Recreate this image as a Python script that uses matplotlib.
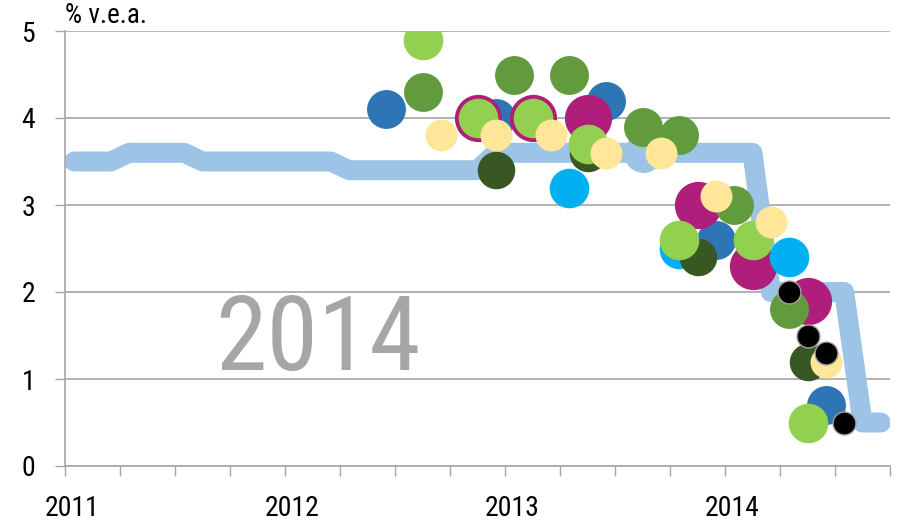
import matplotlib
matplotlib.use('Agg')
import matplotlib.pyplot as plt

plt.rcParams['font.family'] = ['Roboto Condensed', 'Liberation Sans Narrow', 'Roboto', 'DejaVu Sans']

# policy rate, monthly Jan 2011 - Sep 2014
rate_start = '2011-01'
rate = [3.5, 3.5, 3.5,
        3.6, 3.6, 3.6, 3.6,
        3.5, 3.5, 3.5, 3.5, 3.5, 3.5, 3.5, 3.5,
        3.4, 3.4, 3.4, 3.4, 3.4, 3.4, 3.4, 3.4,
        3.6, 3.6, 3.6, 3.6, 3.6, 3.6, 3.6, 3.6, 3.6, 3.6, 3.6, 3.6, 3.6, 3.6, 3.6,
        2.0, 2.0, 2.0, 2.0, 2.0,
        0.5, 0.5]

# forecasts (month, value) per series
lightblue_d = ['2013-08']
lightblue_v = [3.6]
blue_d = ['2012-06', '2012-12', '2013-06', '2013-12', '2014-06']
blue_v = [4.1, 4.0, 4.2, 2.6, 0.7]
magenta_d = ['2012-11', '2013-02', '2013-05', '2013-11', '2014-02', '2014-05']
magenta_v = [4.0, 4.0, 4.0, 3.0, 2.3, 1.9]
cyan_d = ['2013-04', '2013-10', '2014-04']
cyan_v = [3.2, 2.5, 2.4]
green_d = ['2012-08', '2013-01', '2013-04', '2013-08', '2013-10', '2014-01', '2014-04']
green_v = [4.3, 4.5, 4.5, 3.9, 3.8, 3.0, 1.8]
darkgreen_d = ['2012-12', '2013-05', '2013-11', '2014-05']
darkgreen_v = [3.4, 3.6, 2.4, 1.2]
lightgreen_d = ['2012-08', '2012-11', '2013-02', '2013-05', '2013-10', '2014-02', '2014-05']
lightgreen_v = [4.9, 4.0, 4.0, 3.7, 2.6, 2.6, 0.5]
yellow_d = ['2012-09', '2012-12', '2013-03', '2013-06', '2013-09', '2013-12', '2014-03', '2014-06']
yellow_v = [3.8, 3.8, 3.8, 3.6, 3.6, 3.1, 2.8, 1.2]
black_d = ['2014-04', '2014-05', '2014-06', '2014-07']
black_v = [2.0, 1.5, 1.3, 0.5]

years = ['2011', '2012', '2013', '2014']


def mpos(s):
    y, m = s.split('-')
    return (int(y) - 2011) * 12 + int(m) - 1 + 0.5


fig = plt.figure(figsize=(9.08, 5.25), dpi=100)
ax = fig.add_axes([65 / 908, 1 - 466 / 525, 825 / 908, 435 / 525])

x0 = mpos(rate_start)
ax.plot([x0 + i for i in range(len(rate))], rate, color='#9DC3E6', lw=14.4,
        solid_capstyle='round', solid_joinstyle='round', zorder=2)

series = [
    (lightblue_d, lightblue_v, '#9DC3E6', 28, 'none'),
    (blue_d, blue_v, '#2E75B6', 28, 'none'),
    (magenta_d, magenta_v, '#AF1E7A', 34, 'none'),
    (cyan_d, cyan_v, '#00B0F0', 28.5, 'none'),
    (green_d, green_v, '#629B3E', 28, 'none'),
    (darkgreen_d, darkgreen_v, '#385723', 27, 'none'),
    (lightgreen_d, lightgreen_v, '#92D050', 28.5, 'none'),
    (yellow_d, yellow_v, '#FFE699', 23, 'none'),
    (black_d, black_v, '#000000', 16.5, '#A0A0A0'),
]
z = 3
for d, v, c, ms, ec in series:
    ax.plot([mpos(s) for s in d], v, 'o', color=c, ms=ms, mec=ec,
            mew=1.0 if ec != 'none' else 0, ls='none', zorder=z)
    z += 1

ax.set_xlim(0, 45)
ax.set_ylim(0, 5)

gray = '#A6A6A6'
ax.set_yticks(range(0, 6))
ax.yaxis.grid(True, color=gray, lw=1.2)
ax.set_axisbelow(True)
ax.tick_params(axis='y', length=7.5, width=1.0, color=gray, labelsize=20, pad=14)

ax.set_xticks(range(0, 46, 3))
ax.set_xticklabels([])
ax.tick_params(axis='x', which='major', length=7.5, width=1.0, color=gray)
ax.set_xticks([12 * k + 0.4 for k in range(len(years))], minor=True)
ax.set_xticklabels(years, minor=True)
ax.tick_params(axis='x', which='minor', length=0, labelsize=20, pad=21)

for sp in ['top', 'right']:
    ax.spines[sp].set_visible(False)
for sp in ['left', 'bottom']:
    ax.spines[sp].set_color(gray)
    ax.spines[sp].set_linewidth(1.2)

ax.text(0, 1.005, '% v.e.a.', transform=ax.transAxes, fontsize=19.5,
        ha='left', va='bottom')
ax.text(0.3067, 0.2207, '2014', transform=ax.transAxes, fontsize=75,
        color=gray, ha='center', va='baseline')

fig.savefig('out.png', dpi=100)
